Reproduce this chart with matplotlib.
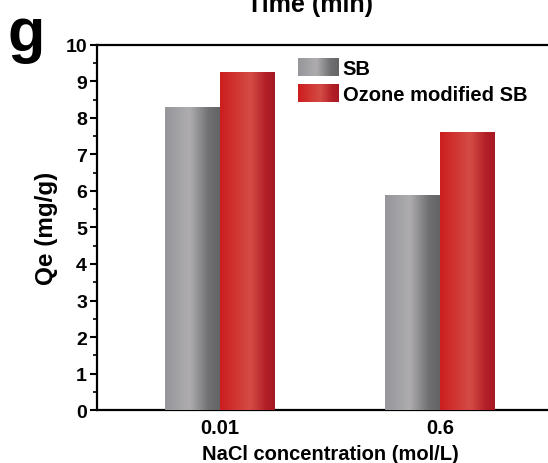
import numpy as np
import matplotlib
matplotlib.use("Agg")
import matplotlib.pyplot as plt
from matplotlib.patches import Patch
from matplotlib.ticker import MultipleLocator

plt.rcParams['font.family'] = ['Liberation Sans', 'DejaVu Sans']
plt.rcParams['font.weight'] = 'bold'

categories = ["0.01", "0.6"]
series_names = ["SB", "Ozone modified SB"]
sb_values = [8.3, 5.88]
ozone_values = [9.25, 7.6]

gray_stops = [(0.0, (150, 150, 155)), (0.45, (174, 172, 174)), (0.8, (112, 112, 114)), (1.0, (100, 100, 102))]
red_stops = [(0.0, (204, 30, 30)), (0.55, (212, 76, 70)), (0.85, (178, 30, 38)), (1.0, (166, 26, 36))]

def gradient(stops, n=64):
    xs = np.linspace(0, 1, n)
    pos = [s[0] for s in stops]
    cols = np.array([s[1] for s in stops], dtype=float) / 255
    out = np.stack([np.interp(xs, pos, cols[:, k]) for k in range(3)], axis=-1)
    return out[np.newaxis, :, :]

fig = plt.figure(figsize=(5.48, 4.64), dpi=100)
ax = fig.add_axes([0.1765, 0.1142, 0.851, 0.7867])

x = np.arange(len(categories))
w = 0.25
b1 = ax.bar(x - w / 2, sb_values, w, color=(0.6, 0.6, 0.6), label=series_names[0], zorder=2)
b2 = ax.bar(x + w / 2, ozone_values, w, color=(0.8, 0.2, 0.2), label=series_names[1], zorder=2)

for bars, stops in ((b1, gray_stops), (b2, red_stops)):
    g = gradient(stops)
    for r in bars:
        x0, y0 = r.get_x(), r.get_y()
        ax.imshow(g, extent=[x0, x0 + r.get_width(), y0, y0 + r.get_height()],
                  aspect='auto', zorder=3, interpolation='bilinear')

ax.set_xlim(-0.56, 1.56)
ax.set_ylim(0, 10)
ax.set_xticks(x)
ax.set_xticklabels(categories, fontsize=14.5, fontweight='bold')
ax.yaxis.set_major_locator(MultipleLocator(1))
ax.yaxis.set_minor_locator(MultipleLocator(0.5))
ax.tick_params(axis='x', length=0, pad=6)
ax.tick_params(axis='y', which='major', length=5, width=1.5, pad=2, labelsize=14)
ax.tick_params(axis='y', which='minor', length=3, width=1.2)
for lab in ax.get_yticklabels():
    lab.set_fontweight('bold')
for s in ax.spines.values():
    s.set_linewidth(1.6)

ax.set_xlabel("NaCl concentration (mol/L)", fontsize=14.5, fontweight='bold', labelpad=5)
ax.set_ylabel("Qe (mg/g)", fontsize=17.5, fontweight='bold')
ax.yaxis.set_label_coords(-0.083, 0.5)

handles = [Patch(facecolor=(0.6, 0.6, 0.6)), Patch(facecolor=(0.8, 0.2, 0.2))]
leg = ax.legend(handles, series_names, loc='upper left', bbox_to_anchor=(0.415, 0.985),
                frameon=False, prop={'size': 14.5, 'weight': 'bold'},
                handlelength=2.0, handleheight=0.95, handletextpad=0.2,
                labelspacing=0.3, borderaxespad=0)

fig.text(0.014, 0.89, "g", fontsize=44, fontweight='bold', ha='left', va='baseline')
fig.text(0.566, 0.974, "Time (min)", fontsize=18, fontweight='bold', ha='center', va='baseline')

fig.canvas.draw()
inv = ax.transData.inverted()
for p, stops in zip(leg.get_patches(), (gray_stops, red_stops)):
    bb = p.get_window_extent()
    (dx0, dy0), (dx1, dy1) = inv.transform([[bb.x0, bb.y0], [bb.x1, bb.y1]])
    ax.imshow(gradient(stops), extent=[dx0, dx1, dy0, dy1], aspect='auto',
              zorder=10, interpolation='bilinear', clip_on=False)
ax.set_xlim(-0.56, 1.56)
ax.set_ylim(0, 10)

fig.savefig("out.png", dpi=100)
